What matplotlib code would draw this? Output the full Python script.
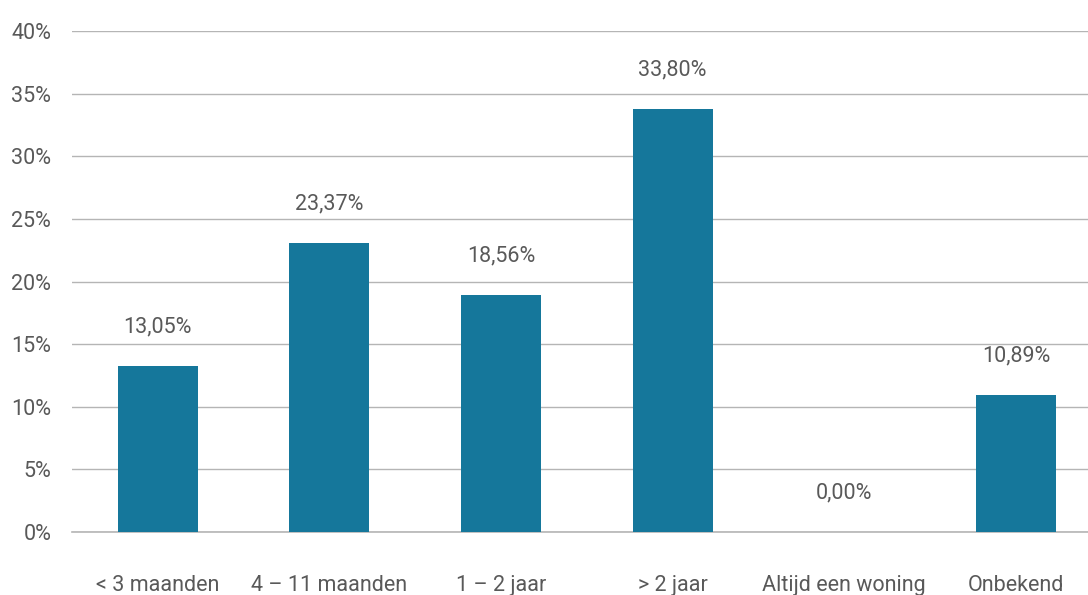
import matplotlib.pyplot as plt
from matplotlib.ticker import FuncFormatter

plt.rcParams['font.family'] = ['Roboto', 'DejaVu Sans']

categories = ['< 3 maanden', '4 – 11 maanden', '1 – 2 jaar', '> 2 jaar',
              'Altijd een woning', 'Onbekend']
heights = [13.25, 23.07, 18.92, 33.77, 0.0, 10.94]
labels = ['13,05%', '23,37%', '18,56%', '33,80%', '0,00%', '10,89%']

fig = plt.figure(figsize=(10.88, 5.95), dpi=100)
ax = fig.add_axes([72 / 1088, 63 / 595, 1016 / 1088, 501 / 595])

x = range(len(categories))
ax.bar(x, heights, width=0.466, color='#15779b', zorder=3)

for i, (h, lab) in enumerate(zip(heights, labels)):
    ax.annotate(lab, (i, h), xytext=(0, 28), textcoords='offset points',
                ha='center', va='center', fontsize=15.5, color='#595959')

ax.set_ylim(0, 40)
ax.set_xlim(-0.5, 5.42)
ax.set_yticks(range(0, 41, 5))
ax.yaxis.set_major_formatter(FuncFormatter(lambda v, p: f'{v:.0f}%'))
ax.set_xticks(list(x))
ax.set_xticklabels(categories)
ax.grid(axis='y', color='#b5b5b5', linewidth=1, zorder=0)
ax.axhline(0, color='#b5b5b5', linewidth=1.2, zorder=1, clip_on=False)
for s in ax.spines.values():
    s.set_visible(False)
ax.tick_params(axis='both', length=0, labelsize=15.5, labelcolor='#595959')
ax.tick_params(axis='x', pad=31)
ax.tick_params(axis='y', pad=15)

fig.savefig('out.png', dpi=100)
